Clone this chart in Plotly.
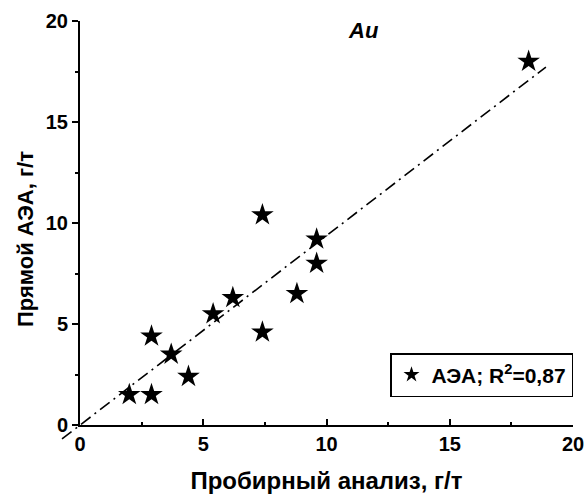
import plotly.graph_objects as go

# Data
assay_x = [2.0, 2.9, 2.9, 3.7, 4.4, 5.4, 6.2, 7.4, 7.4, 8.8, 9.6, 9.6, 18.2]
aea_y = [1.5, 1.5, 4.4, 3.5, 2.4, 5.5, 6.3, 10.4, 4.6, 6.5, 9.2, 8.0, 18.0]
fit_x = [-0.73, 18.9]
fit_y = [-0.69, 17.72]
legend_label = "АЭА; R<sup>2</sup>=0,87"
x_title = "Пробирный анализ, г/т"
y_title = "Прямой АЭА, г/т"
panel_label = "<i>Au</i>"
tick_vals = [0, 5, 10, 15, 20]

FONT = "Liberation Sans, Arial, sans-serif"

# geometry
W, H = 585, 496
ml, mr, mt, mb = 40, 12, 21, 55
plot_w = W - ml - mr
plot_h = H - mt - mb
x0_frac = (80 - ml) / plot_w
y0_frac = (H - mb - 425) / plot_h
xmax, ymax = 20, 20
x2_min = xmax - xmax / (1 - x0_frac)
y2_min = ymax - ymax / (1 - y0_frac)

fig = go.Figure()

# fit line on an extended (invisible) axis pair, same scale, so it can cross the origin
fig.add_trace(go.Scatter(
    x=fit_x, y=fit_y, mode="lines", xaxis="x2", yaxis="y2",
    line=dict(color="black", width=1.6, dash="12px,5px,2px,5px"),
    showlegend=False, hoverinfo="skip"))

fig.add_trace(go.Scatter(
    x=assay_x, y=aea_y, mode="markers", name=legend_label,
    marker=dict(symbol="star", size=17, color="black"),
    cliponaxis=False))

axis_font = dict(family=FONT, size=20, color="black", weight="bold")
title_font = dict(family=FONT, size=24, color="black", weight="bold")

fig.update_layout(
    width=W, height=H,
    margin=dict(l=ml, r=mr, t=mt, b=mb),
    paper_bgcolor="white", plot_bgcolor="rgba(0,0,0,0)",
    font=dict(family=FONT, color="black"),
    xaxis=dict(
        domain=[x0_frac, 1], range=[0, xmax], tickvals=tick_vals, automargin=False,
        showgrid=False, zeroline=False, showline=True, linecolor="black", linewidth=2,
        ticks="inside", ticklen=6, tickwidth=1.5, tickcolor="black",
        minor=dict(dtick=2.5, tick0=0, ticks="inside", ticklen=3, tickwidth=1.5, tickcolor="black"),
        tickfont=axis_font, anchor="y",
        title=dict(text=x_title, font=title_font, standoff=18),
    ),
    yaxis=dict(
        domain=[y0_frac, 1], range=[0, ymax], tickvals=tick_vals, automargin=False,
        showgrid=False, zeroline=False, showline=True, linecolor="black", linewidth=2,
        ticks="outside", ticklen=6, tickwidth=1.5, tickcolor="black",
        minor=dict(dtick=2.5, tick0=0, ticks="outside", ticklen=3, tickwidth=1.5, tickcolor="black"),
        tickfont=axis_font, anchor="x",
    ),
    xaxis2=dict(domain=[0, 1], range=[x2_min, xmax], visible=False, anchor="y2", automargin=False),
    yaxis2=dict(domain=[0, 1], range=[y2_min, ymax], visible=False, anchor="x2", automargin=False),
    legend=dict(
        x=1, y=(H - mb - 397) / plot_h, xanchor="right", yanchor="bottom",
        bordercolor="black", borderwidth=1.5, bgcolor="white",
        font=dict(family=FONT, size=21, color="black", weight="bold"),
        itemsizing="constant",
    ),
    annotations=[
        dict(text="<b>" + panel_label + "</b>", x=11.5, y=19.55, xref="x", yref="y",
             showarrow=False, font=dict(family=FONT, size=22, color="black")),
        dict(text=y_title, textangle=-90, xref="paper", yref="paper",
             x=(26 - ml) / plot_w, y=(H - mb - 239) / plot_h,
             xanchor="center", yanchor="middle", showarrow=False,
             font=dict(family=FONT, size=22, color="black", weight="bold")),
    ],
)

fig.write_html("out.html")
